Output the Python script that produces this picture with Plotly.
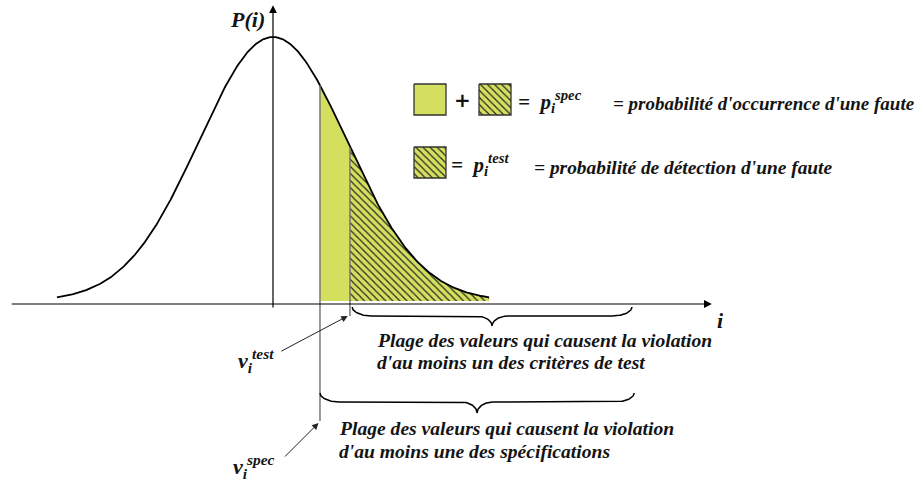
import numpy as np
import plotly.graph_objects as go

# --- loi P(i) (gaussienne) et seuils ---
MU = 0.0
SIGMA = 1.0
I_MIN, I_MAX = -2.92, 2.92       # étendue tracée de la courbe
V_SPEC = 0.635                   # v_i^spec
V_TEST = 1.04                    # v_i^test
BRACE_END = 4.85                 # fin des deux plages (accolades)
AXE_I = (-3.55, 5.93)            # axe horizontal i
AXE_P = (-0.03, 1.12)            # axe vertical P(i)

VERT = '#d4df5f'
FONT = 'Liberation Serif'
W, H = 919, 486

# échelle : pixels <-> unités
X0_PX, X_SCALE = 273, 74
Y0_PX, Y_SCALE = 301, 264


def dy(px):
    return (Y0_PX - px) / Y_SCALE


def gauss(x):
    return np.exp(-0.5 * ((x - MU) / SIGMA) ** 2)


def accolade(x0, x1, y_end, y_body, y_tip, r_end, r_mid, n=30):
    xm = (x0 + x1) / 2
    t = np.linspace(0, np.pi / 2, n)
    ax_ = x0 + r_end * (1 - np.cos(t))
    ay_ = y_end + (y_body - y_end) * np.sin(t)
    bx_ = xm - r_mid + r_mid * np.sin(t)
    by_ = y_body + (y_tip - y_body) * (1 - np.cos(t))
    lx = np.concatenate([ax_, bx_])
    ly = np.concatenate([ay_, by_])
    return np.concatenate([lx, 2 * xm - lx[::-1]]), np.concatenate([ly, ly[::-1]])


HACH = dict(shape='\\', fgcolor='#1e1e1e', bgcolor=VERT, fgopacity=1, size=5, solidity=0.22)

fig = go.Figure()

# zone spec (verte pleine)
xs = np.linspace(V_SPEC, I_MAX, 200)
fig.add_trace(go.Scatter(x=xs, y=gauss(xs), mode='lines', fill='tozeroy',
                         fillcolor=VERT, line=dict(width=0)))
# zone test (hachurée)
xt = np.linspace(V_TEST, I_MAX, 200)
fig.add_trace(go.Scatter(x=xt, y=gauss(xt), mode='lines', fill='tozeroy',
                         fillcolor=VERT, line=dict(width=0), fillpattern=HACH))
# courbe
xc = np.linspace(I_MIN, I_MAX, 400)
fig.add_trace(go.Scatter(x=xc, y=gauss(xc), mode='lines', line=dict(color='black', width=1.8)))

# traits verticaux aux seuils
fig.add_trace(go.Scatter(x=[V_SPEC, V_SPEC], y=[gauss(V_SPEC), dy(421)], mode='lines',
                         line=dict(color='#707070', width=1.4)))
fig.add_trace(go.Scatter(x=[V_TEST, V_TEST], y=[gauss(V_TEST), dy(316)], mode='lines',
                         line=dict(color='#707070', width=1.4)))

# accolades
bx, by = accolade(V_TEST + 0.03, BRACE_END, dy(307), dy(316), dy(326), 0.27, 0.22)
fig.add_trace(go.Scatter(x=bx, y=by, mode='lines', line=dict(color='black', width=1.5)))
bx, by = accolade(V_SPEC, BRACE_END + 0.03, dy(393), dy(402), dy(413), 0.27, 0.22)
fig.add_trace(go.Scatter(x=bx, y=by, mode='lines', line=dict(color='black', width=1.5)))


# légende (carrés) en coordonnées pixels
def carre(x0, y0, hach):
    kw = dict(x=[x0, x0 + 32, x0 + 32, x0, x0], y=[y0, y0, y0 + 31, y0 + 31, y0],
              mode='lines', fill='toself', fillcolor=VERT,
              line=dict(color='#333', width=1.3), xaxis='x2', yaxis='y2')
    if hach:
        kw['fillpattern'] = HACH
    fig.add_trace(go.Scatter(**kw))


carre(414, 84, False)
carre(479, 84, True)
carre(414, 147, True)

annots = []


def texte(x, y, s, size=19, xanchor='left', fam=FONT, gras_ital=True):
    if gras_ital:
        s = '<b><i>' + s + '</i></b>'
    annots.append(dict(x=x, y=y, xref='x2', yref='y2', text=s, showarrow=False,
                       xanchor=xanchor, yanchor='middle',
                       font=dict(family=fam, size=size, color='#141414')))


texte(247, 19, 'P(i)', size=22, xanchor='center')
texte(720, 320, 'i', size=22, xanchor='center')
texte(462, 100, '<b>+</b>', size=20, xanchor='center', fam='DejaVu Sans', gras_ital=False)
texte(516, 101, '=  p<sub>i</sub><sup>spec</sup>', size=21)
texte(611, 103, '= probabilité d\'occurrence d\'une faute', size=19)
texte(449, 164, '=  p<sub>i</sub><sup>test</sup>', size=21)
texte(532, 167, '= probabilité de détection d\'une faute', size=19.4)
texte(375, 340, 'Plage des valeurs qui causent la violation', size=19.6)
texte(375, 362, 'd\'au moins un des critères de test', size=19.6)
texte(337, 428, 'Plage des valeurs qui causent la violation', size=19.6)
texte(337, 451, 'd\'au moins une des spécifications', size=19.6)
texte(236, 360, 'v<sub>i</sub><sup>test</sup>', size=22)
texte(231, 466, 'v<sub>i</sub><sup>spec</sup>', size=22)

# axes avec flèches
y_axe = dy(304)
annots.append(dict(x=AXE_I[1], y=y_axe, ax=AXE_I[0], ay=y_axe, xref='x', yref='y',
                   axref='x', ayref='y', text='', showarrow=True, arrowhead=2,
                   arrowsize=1.3, arrowwidth=1.2, arrowcolor='black'))
annots.append(dict(x=MU, y=AXE_P[1], ax=MU, ay=AXE_P[0], xref='x', yref='y',
                   axref='x', ayref='y', text='', showarrow=True, arrowhead=2,
                   arrowsize=1.3, arrowwidth=1.2, arrowcolor='black'))
# flèches vers v_i^test et v_i^spec
annots.append(dict(x=V_TEST - 0.03, y=dy(316), ax=-68, ay=36, xref='x', yref='y',
                   text='', showarrow=True, arrowhead=2, arrowsize=1.3,
                   arrowwidth=1, arrowcolor='#222'))
annots.append(dict(x=V_SPEC - 0.02, y=dy(423), ax=-35, ay=35, xref='x', yref='y',
                   text='', showarrow=True, arrowhead=2, arrowsize=1.3,
                   arrowwidth=1, arrowcolor='#222'))

fig.update_layout(
    width=W, height=H, margin=dict(l=0, r=0, t=0, b=0),
    paper_bgcolor='white', plot_bgcolor='white', showlegend=False,
    font=dict(family=FONT),
    xaxis=dict(range=[(0 - X0_PX) / X_SCALE, (W - X0_PX) / X_SCALE], visible=False),
    yaxis=dict(range=[dy(H), dy(0)], visible=False),
    xaxis2=dict(range=[0, W], overlaying='x', visible=False),
    yaxis2=dict(range=[H, 0], overlaying='y', visible=False),
    annotations=annots,
)

# pas de marge de page, pour que le graphique occupe toute la fenêtre
fig.write_html('out.html', config={'displayModeBar': False},
               post_script="document.body.style.margin='0';")
